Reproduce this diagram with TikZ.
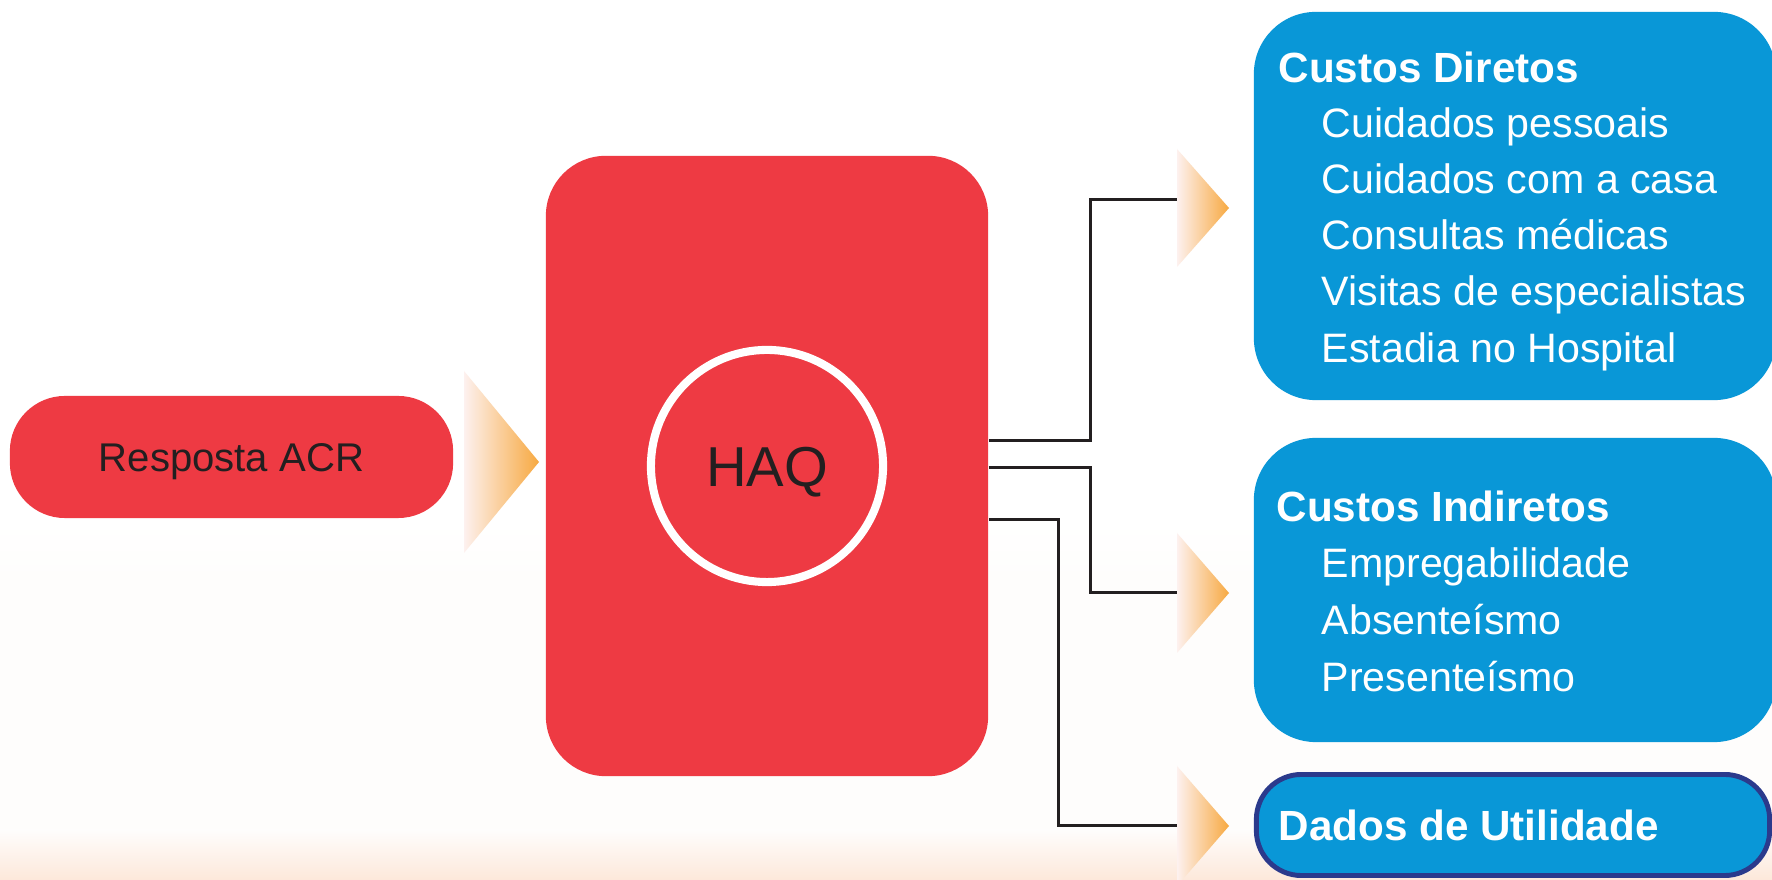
\documentclass[tikz,border=0pt]{standalone}
\usepackage{fontspec}
\setmainfont{Liberation Sans}
\usepackage{xcolor}
\definecolor{haqred}{HTML}{EE3A43}
\definecolor{costblue}{HTML}{0997D7}
\definecolor{utilnavy}{HTML}{2B3A8C}
\definecolor{inkgray}{HTML}{231F20}
\definecolor{arroworange}{HTML}{F7A941}
\definecolor{arrowpale}{HTML}{FDF1EF}
\definecolor{floorpeach}{HTML}{FDE8DA}
\definecolor{floorwhite}{HTML}{FEFDFC}

\begin{document}
\begin{tikzpicture}[x=0.01cm, y=-0.01cm,
    redbox/.style={fill=haqred, rounded corners=0.6cm, inner sep=0pt},
    bluebox/.style={fill=costblue, rounded corners=0.62cm, inner sep=0pt},
    conn/.style={draw=inkgray, line width=0.85pt},
    pointer/.style={left color=arrowpale, right color=arroworange},
    head/.style={anchor=base west, inner sep=0pt, text=white, font=\fontsize{12}{14}\selectfont\bfseries},
    item/.style={anchor=base west, inner sep=0pt, text=white, font=\fontsize{11.7}{14}\selectfont}]

    % Background
    \useasboundingbox (0,0) rectangle (1772,880);
    \clip (0,0) rectangle (1772,880);
    \fill[white] (0,0) rectangle (1772,880);
    \shade[top color=white, bottom color=floorwhite] (0,520) rectangle (1772,580);
    \fill[floorwhite] (0,580) rectangle (1772,830);
    \shade[top color=floorwhite, bottom color=floorpeach] (0,830) rectangle (1772,880);

    % Resposta ACR
    \node[redbox, rounded corners=0.55cm, minimum width=4.43cm, minimum height=1.22cm,
        text=inkgray, font=\fontsize{11.4}{13}\selectfont, text height=8.2pt, text depth=0pt]
        (acr) at (231.5,457) {Resposta ACR};
    \shade[pointer] (464,371) -- (539,462) -- (464,553) -- cycle;

    % HAQ
    \node[redbox, minimum width=4.42cm, minimum height=6.2cm] (haq) at (767,466) {};
    \node[circle, draw=white, line width=2.3pt, minimum size=2.32cm, inner sep=0pt,
        text=inkgray, font=\fontsize{16}{18}\selectfont, text height=11.5pt, text depth=0pt]
        (haqc) at (767,466) {HAQ};

    % Connectors
    \coordinate (in1) at (1177,200);
    \coordinate (in2) at (1177,593);
    \coordinate (in3) at (1177,826);
    \draw[conn] (haq.east |- 0,441) -| (1090,0 |- in1) -- (in1);
    \draw[conn] (haq.east |- 0,468) -| (1090,0 |- in2) -- (in2);
    \draw[conn] (haq.east |- 0,520) -| (1058,0 |- in3) -- (in3);

    % Pointers
    \shade[pointer] (1177,149) -- (1229,208) -- (1177,267) -- cycle;
    \shade[pointer] (1177,533) -- (1229,593) -- (1177,653) -- cycle;
    \shade[pointer] (1177,766) -- (1229,826) -- (1177,886) -- cycle;

    % Custos Diretos
    \node[bluebox, minimum width=5.22cm, minimum height=3.88cm] (dir) at (1515,206) {};
    \node[head] (dirhead) at (1278,83) {Custos Diretos};
    \foreach \t [count=\i] in {Cuidados pessoais, Cuidados com a casa, Consultas médicas,
        Visitas de especialistas, Estadia no Hospital}
        \node[item] (dir\i) at (1321,81+56.25*\i) {\t};

    % Custos Indiretos
    \node[bluebox, minimum width=5.22cm, minimum height=3.04cm] (ind) at (1515,590) {};
    \node[head] (indhead) at (1276,522) {Custos Indiretos};
    \foreach \t [count=\i] in {Empregabilidade, Absenteísmo, Presenteísmo}
        \node[item] (ind\i) at (1321,521+57*\i) {\t};

    % Dados de Utilidade
    \node[bluebox, draw=utilnavy, line width=1.4pt, rounded corners=0.45cm,
        minimum width=5.13cm, minimum height=1.01cm] (util) at (1513,825) {};
    \node[head] (utilhead) at (1278,841) {Dados de Utilidade};
\end{tikzpicture}
\end{document}
